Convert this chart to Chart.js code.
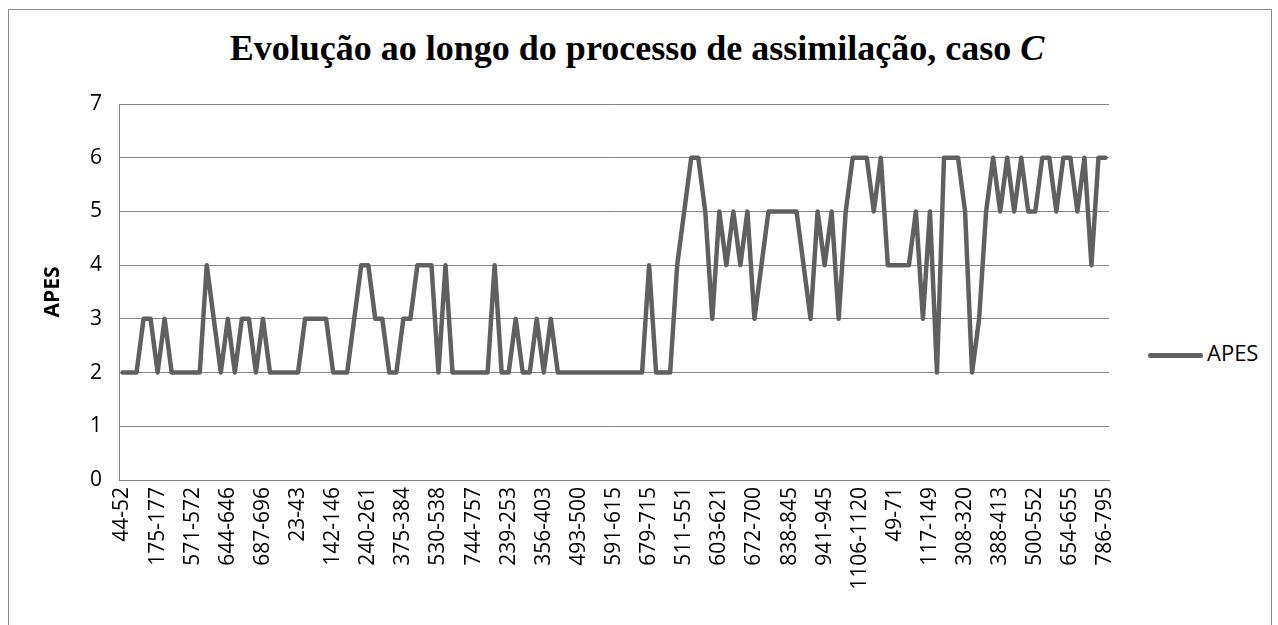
<!DOCTYPE html>
<html>
<head>
<meta charset="utf-8">
<script src="https://cdn.jsdelivr.net/npm/chart.js@4/dist/chart.umd.min.js"></script>
<style>
  body { margin: 0; background: #fff; }
  #frame { position: absolute; left: 8px; top: 9px; width: 1262px; height: 640px; border: 1px solid #8c8c8c; }
  #title { position: absolute; left: 0; top: 27px; width: 1274px; text-align: center;
           font: bold 36px "Liberation Serif", serif; color: #000; }
  #legend { position: absolute; left: 1148px; top: 337px; font: 22px "Open Sans", sans-serif; color: #000; white-space: nowrap; }
  #legend span.mark { display: inline-block; width: 55px; height: 5px; background: #606060; border-radius: 3px; vertical-align: middle; margin-right: 4px; }
  canvas { position: absolute; left: 0; top: 0; }
</style>
</head>
<body>
<div id="frame"></div>
<div id="title">Evolução ao longo do processo de assimilação, caso <i>C</i></div>
<div id="legend"><span class="mark"></span>APES</div>
<canvas id="chart" width="1278" height="625"></canvas>
<script>
// visible category labels (every 5th point)
const tickLabels = ['44-52', '175-177', '571-572', '644-646', '687-696', '23-43', '142-146', '240-261',
  '375-384', '530-538', '744-757', '239-253', '356-403', '493-500', '591-615', '679-715', '511-551',
  '603-621', '672-700', '838-845', '941-945', '1106-1120', '49-71', '117-149', '308-320', '388-413',
  '500-552', '654-655', '786-795'];

// APES values, one per segment
const apesValues = [
  2, 2, 2, 3, 3, 2, 3, 2, 2, 2,
  2, 2, 4, 3, 2, 3, 2, 3, 3, 2,
  3, 2, 2, 2, 2, 2, 3, 3, 3, 3,
  2, 2, 2, 3, 4, 4, 3, 3, 2, 2,
  3, 3, 4, 4, 4, 2, 4, 2, 2, 2,
  2, 2, 2, 4, 2, 2, 3, 2, 2, 3,
  2, 3, 2, 2, 2, 2, 2, 2, 2, 2,
  2, 2, 2, 2, 2, 4, 2, 2, 2, 4,
  5, 6, 6, 5, 3, 5, 4, 5, 4, 5,
  3, 4, 5, 5, 5, 5, 5, 4, 3, 5,
  4, 5, 3, 5, 6, 6, 6, 5, 6, 4,
  4, 4, 4, 5, 3, 5, 2, 6, 6, 6,
  5, 2, 3, 5, 6, 5, 6, 5, 6, 5,
  5, 6, 6, 5, 6, 6, 5, 6, 4, 6,
  6
];

const labels = apesValues.map((v, i) => i % 5 === 0 ? tickLabels[i / 5] : '');

const gridColor = '#868686';
const tickFont = { family: 'Open Sans', size: 21 };

new Chart(document.getElementById('chart'), {
  type: 'line',
  data: {
    labels: labels,
    datasets: [{
      label: 'APES',
      data: apesValues,
      borderColor: '#606060',
      backgroundColor: '#606060',
      borderWidth: 4.5,
      borderJoinStyle: 'round',
      borderCapStyle: 'round',
      pointRadius: 0,
      tension: 0,
      fill: false
    }]
  },
  options: {
    responsive: false,
    animation: false,
    layout: { padding: { left: 40, top: 104, right: 169, bottom: 0 } },
    plugins: {
      legend: { display: false },
      title: { display: false },
      tooltip: { enabled: false }
    },
    scales: {
      x: {
        type: 'category',
        offset: true,
        grid: { display: false, drawTicks: false },
        border: { display: true, color: gridColor, width: 1 },
        ticks: {
          autoSkip: false,
          minRotation: 90,
          maxRotation: 90,
          padding: 7,
          color: '#000',
          font: tickFont
        },
        afterFit: scale => { scale.height = 145; }
      },
      y: {
        min: 0,
        max: 7,
        ticks: { stepSize: 1, padding: 17, color: '#000', font: tickFont },
        grid: { color: gridColor, lineWidth: 1, drawTicks: false },
        border: { display: true, color: gridColor, width: 1 },
        title: {
          display: true,
          text: 'APES',
          color: '#000',
          font: { family: 'Open Sans', size: 21, weight: 'bold' },
          padding: 0
        },
        afterFit: scale => { scale.width = 79; }
      }
    }
  }
});
</script>
</body>
</html>
